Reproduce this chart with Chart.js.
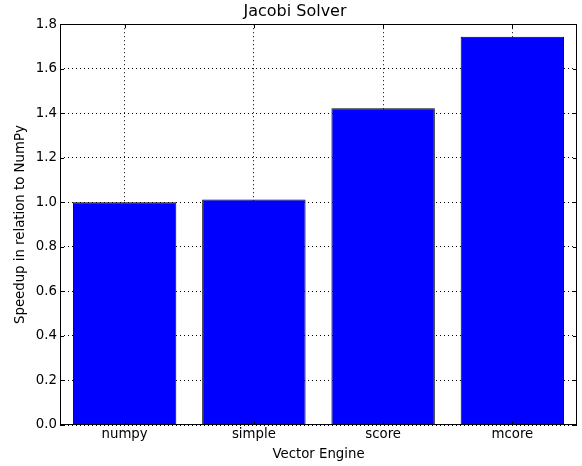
<!DOCTYPE html>
<html>
<head>
<meta charset="utf-8">
<script src="https://cdn.jsdelivr.net/npm/chart.js@4/dist/chart.umd.min.js"></script>
<style>
  html, body { margin: 0; padding: 0; background: #fff; }
  #wrap { width: 582px; height: 466px; }
</style>
</head>
<body>
<div id="wrap"><canvas id="chart" width="582" height="466"></canvas></div>
<script>
// data
const engines = ['numpy', 'simple', 'score', 'mcore']
const speedup = [1.0, 1.013, 1.423, 1.744]
const yTicks = [0, 0.2, 0.4, 0.6, 0.8, 1.0, 1.2, 1.4, 1.6, 1.8]

const FONT = "'DejaVu Sans', sans-serif"

// box around the plot + small inward tick marks like matplotlib
const framePlugin = {
    id: 'frame',
    afterDraw(chart) {
        const ctx = chart.ctx
        const a = chart.chartArea
        const xs = chart.scales.x
        const ys = chart.scales.y
        ctx.save()
        ctx.strokeStyle = '#000'
        ctx.lineWidth = 1
        ctx.setLineDash([])
        ctx.strokeRect(Math.round(a.left) + 0.5, Math.round(a.top) + 0.5,
            Math.round(a.right - a.left) - 1, Math.round(a.bottom - a.top) - 1)
        ctx.beginPath()
        yTicks.forEach(v => {
            const y = Math.round(ys.getPixelForValue(v)) + 0.5
            ctx.moveTo(a.left, y); ctx.lineTo(a.left + 4, y)
            ctx.moveTo(a.right, y); ctx.lineTo(a.right - 4, y)
        })
        engines.forEach((e, i) => {
            const x = Math.round(xs.getPixelForValue(i)) + 0.5
            ctx.moveTo(x, a.bottom); ctx.lineTo(x, a.bottom - 4)
            ctx.moveTo(x, a.top); ctx.lineTo(x, a.top + 4)
        })
        ctx.stroke()
        ctx.restore()
    }
}

const ctx = document.getElementById('chart').getContext('2d')
const chart = new Chart(ctx, {
    type: 'bar',
    data: {
        labels: engines,
        datasets: [{
            label: 'Speedup',
            data: speedup,
            backgroundColor: '#0000ff',
            borderColor: '#000',
            borderWidth: 1,
            barPercentage: 0.8,
            categoryPercentage: 1.0
        }]
    },
    options: {
        responsive: false,
        animation: false,
        layout: { padding: { left: 13, right: 5, top: 0, bottom: 0 } },
        plugins: {
            legend: { display: false },
            tooltip: { enabled: false },
            title: {
                display: true,
                text: 'Jacobi Solver',
                color: '#000',
                font: { family: FONT, size: 16, weight: 'normal' },
                padding: { top: 2, bottom: 3 }
            }
        },
        scales: {
            x: {
                z: 1,
                grid: {
                    offset: false,
                    color: '#000',
                    lineWidth: 1,
                    drawTicks: false
                },
                border: { display: false, dash: [1, 3] },
                ticks: {
                    color: '#000',
                    padding: 2,
                    font: { family: FONT, size: 13.3 }
                },
                title: {
                    display: true,
                    text: 'Vector Engine',
                    color: '#000',
                    font: { family: FONT, size: 13.3 },
                    padding: { top: 4, bottom: 3 }
                },
                afterFit: s => { s.height = 41 }
            },
            y: {
                z: 1,
                min: 0,
                max: 1.8,
                afterBuildTicks: s => { s.ticks = yTicks.map(v => ({ value: v })) },
                grid: {
                    color: '#000',
                    lineWidth: 1,
                    drawTicks: false
                },
                border: { display: false, dash: [1, 3] },
                ticks: {
                    color: '#000',
                    padding: 3,
                    font: { family: FONT, size: 13.3 },
                    callback: v => v.toFixed(1)
                },
                title: {
                    display: true,
                    text: 'Speedup in relation to NumPy',
                    color: '#000',
                    font: { family: FONT, size: 13.3 },
                    padding: { top: 0, bottom: 4 }
                },
                afterFit: s => { s.width = 47 }
            }
        }
    },
    plugins: [framePlugin]
})
</script>
</body>
</html>
